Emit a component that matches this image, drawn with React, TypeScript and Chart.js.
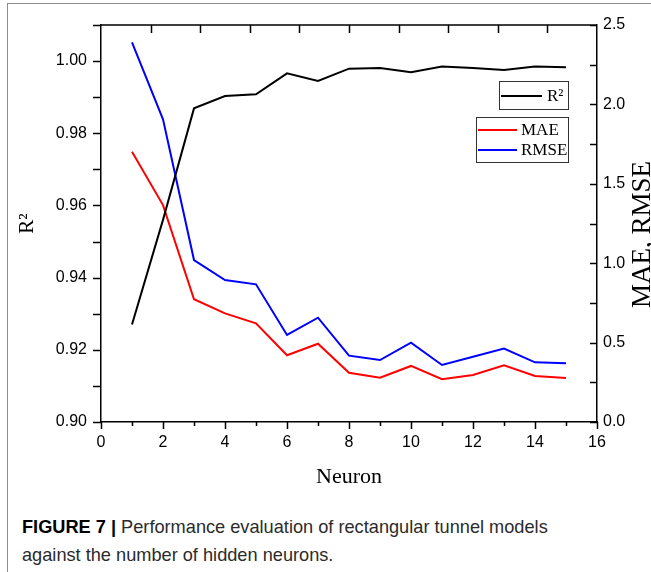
import React, { useEffect, useRef } from "react";
import { Chart, registerables } from "chart.js";

Chart.register(...registerables);

// ---- data ----
const neurons = [1, 2, 3, 4, 5, 6, 7, 8, 9, 10, 11, 12, 13, 14, 15];
const r2Values = [0.927, 0.956, 0.9869, 0.9903, 0.9908, 0.9966, 0.9945, 0.9979, 0.9981, 0.9969, 0.9985, 0.9981, 0.9975, 0.9985, 0.9983];
const maeValues = [1.702, 1.366, 0.773, 0.684, 0.621, 0.42, 0.493, 0.31, 0.279, 0.353, 0.269, 0.296, 0.357, 0.29, 0.277];
const rmseValues = [2.39, 1.906, 1.02, 0.894, 0.867, 0.548, 0.657, 0.418, 0.39, 0.5, 0.359, 0.411, 0.462, 0.376, 0.37];

const xRange = [0, 16];
const xMajorStep = 2;
const xMinorStep = 1;
const leftRange = [0.9, 1.01];
const leftMajorStep = 0.02;
const leftMinorStep = 0.01;
const rightRange = [0, 2.5];
const rightMajorStep = 0.5;
const rightMinorStep = 0.25;
const topDivisions = 10;

const xTitle = "Neuron";
const leftTitle = "R\u00B2";
const rightTitle = "MAE, RMSE";
const legendR2 = "R\u00B2";
const legendMae = "MAE";
const legendRmse = "RMSE";

const SERIF = "'Liberation Serif', 'Times New Roman', serif";
const SANS = "'Liberation Sans', Arial, sans-serif";

const decorPlugin = {
  id: "decor",
  afterDraw(chart: any) {
    const { ctx, chartArea: a, scales } = chart;
    const sx = scales.x, sy = scales.y, sy2 = scales.y2;
    ctx.save();
    ctx.strokeStyle = "#000";
    ctx.lineWidth = 1.5;
    ctx.beginPath();
    // top frame line
    ctx.moveTo(a.left, a.top);
    ctx.lineTo(a.right, a.top);
    // left ticks (outward)
    for (let v = leftRange[0]; v <= leftRange[1] + 1e-9; v += leftMinorStep) {
      const p = Math.round(sy.getPixelForValue(v)) + 0.5;
      ctx.moveTo(a.left - 8, p);
      ctx.lineTo(a.left, p);
    }
    // bottom ticks (outward)
    for (let v = xRange[0]; v <= xRange[1] + 1e-9; v += xMinorStep) {
      const p = Math.round(sx.getPixelForValue(v)) + 0.5;
      const major = Math.abs(v / xMajorStep - Math.round(v / xMajorStep)) < 1e-6;
      ctx.moveTo(p, a.bottom);
      ctx.lineTo(p, a.bottom + (major ? 7 : 4));
    }
    // right ticks (inward)
    for (let v = rightRange[0]; v <= rightRange[1] + 1e-9; v += rightMinorStep) {
      const p = Math.round(sy2.getPixelForValue(v)) + 0.5;
      ctx.moveTo(a.right - 7, p);
      ctx.lineTo(a.right, p);
    }
    // top ticks (inward)
    for (let i = 1; i < topDivisions; i++) {
      const p = Math.round(a.left + ((a.right - a.left) * i) / topDivisions) + 0.5;
      ctx.moveTo(p, a.top);
      ctx.lineTo(p, a.top + 8);
    }
    ctx.stroke();

    // right axis title, reading bottom to top
    ctx.save();
    ctx.translate(643, (sy2.top + sy2.bottom) / 2 + 11);
    ctx.rotate(-Math.PI / 2);
    ctx.font = `27px ${SERIF}`;
    ctx.fillStyle = "#000";
    ctx.textAlign = "center";
    ctx.textBaseline = "middle";
    ctx.fillText(rightTitle, 0, 0);
    ctx.restore();

    // legends
    const ds = chart.data.datasets;
    ctx.lineWidth = 1;
    ctx.strokeStyle = "#333";
    ctx.strokeRect(499.5, 81.5, 69, 28);
    ctx.strokeRect(476.5, 117.5, 92, 45);
    ctx.font = `17px ${SERIF}`;
    ctx.fillStyle = "#000";
    ctx.textBaseline = "middle";
    ctx.textAlign = "left";
    const item = (color: string, x1: number, x2: number, y: number, label: string, tx: number) => {
      ctx.strokeStyle = color;
      ctx.lineWidth = 2;
      ctx.beginPath();
      ctx.moveTo(x1, y);
      ctx.lineTo(x2, y);
      ctx.stroke();
      ctx.fillText(label, tx, y + 1);
    };
    item(ds[0].borderColor, 501, 542, 96, legendR2, 547);
    item(ds[1].borderColor, 478, 517, 130, legendMae, 521);
    item(ds[2].borderColor, 478, 517, 150, legendRmse, 521);
    ctx.restore();
  },
};

export default function App() {
  const ref = useRef<HTMLCanvasElement>(null);
  useEffect(() => {
    const chart = new Chart(ref.current as HTMLCanvasElement, {
      type: "line",
      data: {
        datasets: [
          {
            label: legendR2,
            data: neurons.map((n, i) => ({ x: n, y: r2Values[i] })),
            borderColor: "#000000",
            borderWidth: 2,
            pointRadius: 0,
            yAxisID: "y",
            tension: 0,
          },
          {
            label: legendMae,
            data: neurons.map((n, i) => ({ x: n, y: maeValues[i] })),
            borderColor: "#ff0000",
            borderWidth: 2,
            pointRadius: 0,
            yAxisID: "y2",
            tension: 0,
          },
          {
            label: legendRmse,
            data: neurons.map((n, i) => ({ x: n, y: rmseValues[i] })),
            borderColor: "#0000ff",
            borderWidth: 2,
            pointRadius: 0,
            yAxisID: "y2",
            tension: 0,
          },
        ],
      },
      options: {
        animation: false,
        responsive: false,
        devicePixelRatio: 1,
        layout: { padding: { top: 25, left: 0, right: 0, bottom: 0 } },
        plugins: { legend: { display: false }, tooltip: { enabled: false } },
        scales: {
          x: {
            type: "linear",
            min: xRange[0],
            max: xRange[1],
            grid: { display: false, drawTicks: false },
            border: { display: true, color: "#000", width: 1.5 },
            ticks: {
              stepSize: xMajorStep,
              color: "#000",
              font: { family: SANS, size: 16 },
              padding: 11,
              maxRotation: 0,
            },
            title: {
              display: true,
              text: xTitle,
              color: "#000",
              font: { family: SERIF, size: 22 },
              padding: 0,
            },
            afterFit: (s: any) => {
              s.height = 68;
            },
          },
          y: {
            type: "linear",
            position: "left",
            min: leftRange[0],
            max: leftRange[1],
            grid: { display: false, drawTicks: false },
            border: { display: true, color: "#000", width: 1.5 },
            ticks: {
              stepSize: leftMajorStep,
              includeBounds: false,
              color: "#000",
              font: { family: SANS, size: 16 },
              padding: 14,
              callback: (v: any) => Number(v).toFixed(2),
            },
            title: {
              display: true,
              text: leftTitle,
              color: "#000",
              font: { family: SERIF, size: 21 },
              padding: { top: 15, bottom: 0 },
            },
            afterFit: (s: any) => {
              s.width = 101;
            },
          },
          y2: {
            type: "linear",
            position: "right",
            min: rightRange[0],
            max: rightRange[1],
            grid: { display: false, drawTicks: false },
            border: { display: true, color: "#000", width: 1.5 },
            ticks: {
              stepSize: rightMajorStep,
              color: "#000",
              font: { family: SANS, size: 16 },
              padding: 6,
              callback: (v: any) => Number(v).toFixed(1),
            },
            afterFit: (s: any) => {
              s.width = 54;
            },
          },
        },
      },
      plugins: [decorPlugin],
    } as any);
    return () => chart.destroy();
  }, []);

  return (
    <div style={{ position: "absolute", left: 0, top: 0, width: 651, height: 572, overflow: "hidden", background: "#fff" }}>
      <div
        style={{
          position: "absolute",
          left: 7,
          top: 3,
          right: -10,
          bottom: -10,
          borderLeft: "1.5px solid #8c8c8c",
          borderTop: "1.5px solid #8c8c8c",
        }}
      />
      <canvas ref={ref} width={651} height={490} style={{ position: "absolute", left: 0, top: 0, width: 651, height: 490 }} />
      <div
        style={{
          position: "absolute",
          left: 22,
          top: 513,
          fontFamily: SANS,
          fontSize: 18.2,
          lineHeight: "28px",
          color: "#2b2b2b",
          whiteSpace: "nowrap",
        }}
      >
        <span style={{ fontWeight: "bold", color: "#000" }}>FIGURE 7 |</span> Performance evaluation of rectangular tunnel models
        <br />
        against the number of hidden neurons.
      </div>
    </div>
  );
}
